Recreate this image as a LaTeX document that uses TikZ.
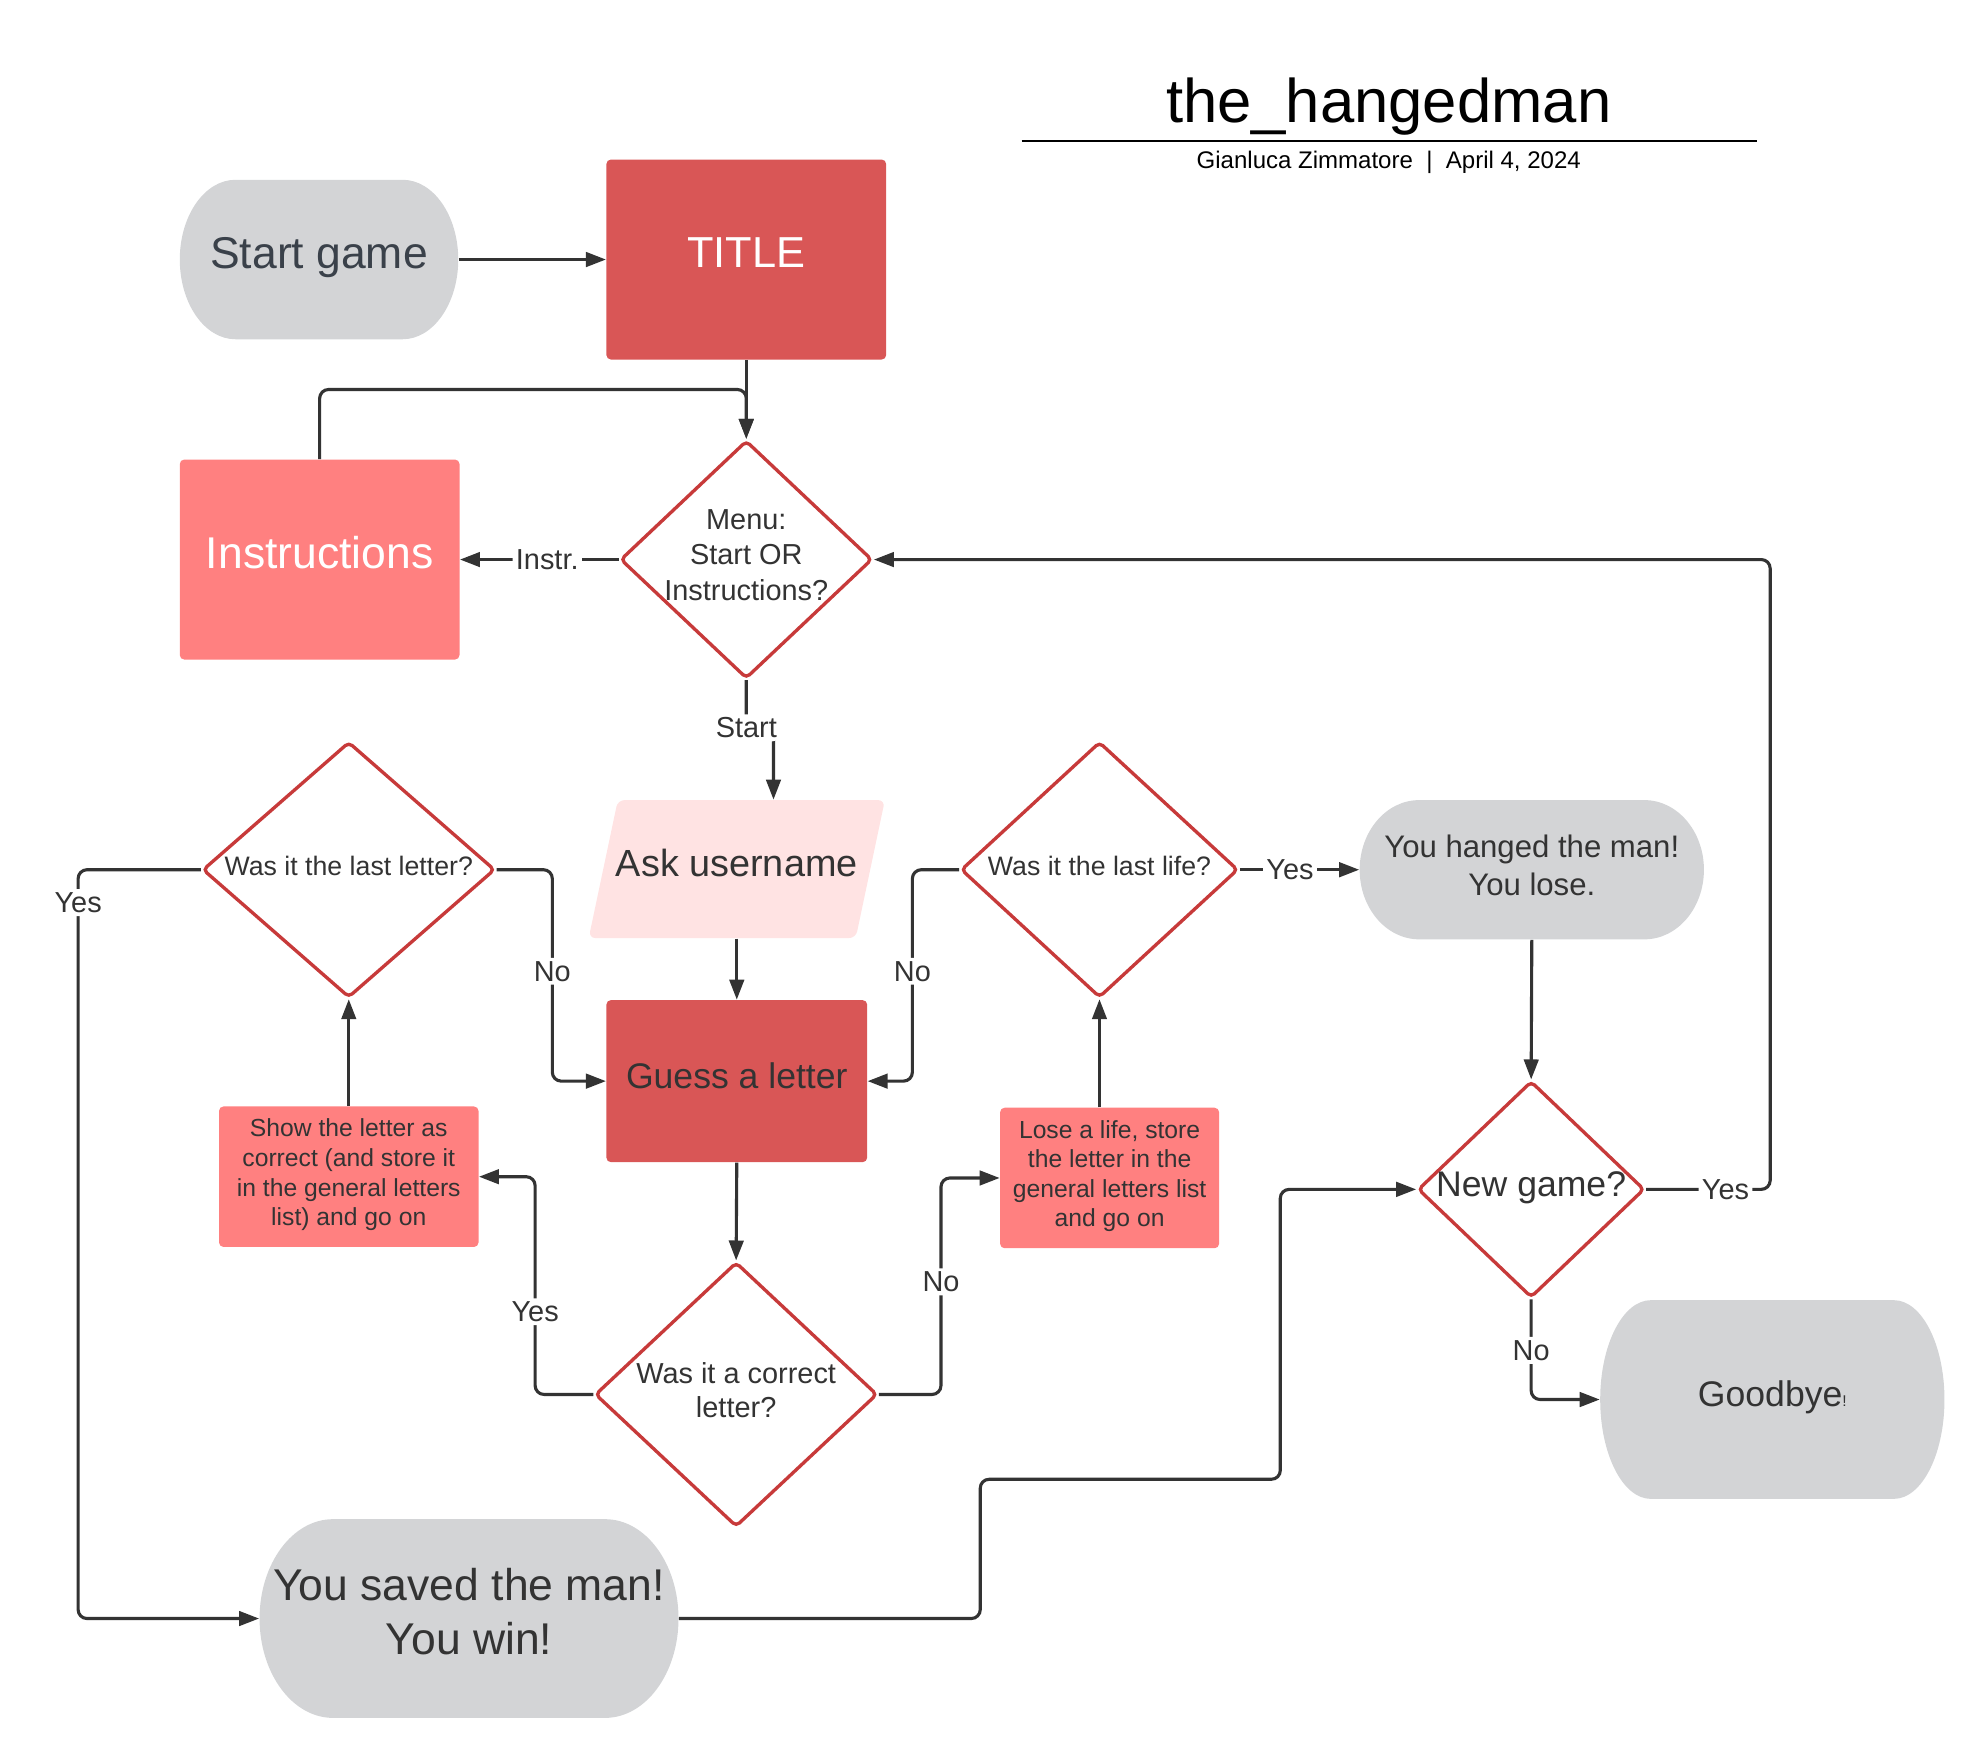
\documentclass[tikz,border=0pt]{standalone}
\usepackage{fontspec}
\setmainfont{Liberation Sans}
\usetikzlibrary{shapes.geometric,arrows.meta}

\definecolor{pillgray}{HTML}{D3D4D6}
\definecolor{boxred}{HTML}{D95656}
\definecolor{boxpink}{HTML}{FF8080}
\definecolor{askpink}{HTML}{FFE3E3}
\definecolor{diared}{HTML}{C73A3A}
\definecolor{linegray}{HTML}{333333}
\definecolor{slate}{HTML}{3A414A}

\begin{document}
\begin{tikzpicture}[x=0.02cm, y=-0.02cm,
  arr/.style={draw=linegray, line width=1.4pt, rounded corners=4pt, -{Triangle[length=9pt,width=6.5pt]}},
  lbl/.style={fill=white, inner sep=1.5pt, text=linegray, font=\fontsize{13}{15}\selectfont},
  txt/.style={align=center, text=linegray},
  box/.style 2 args={rectangle, rounded corners=2pt, minimum width=#1, minimum height=#2, inner sep=0pt},
  decision/.style 2 args={diamond, draw=diared, line width=1.5pt, rounded corners=2pt, fill=white, inner sep=0pt, minimum width=#1, minimum height=#2},
  pill/.style n args={3}{rectangle, inner sep=0pt, minimum width=#1, minimum height=#2,
    path picture={\fill[pillgray] ([xshift=#3]path picture bounding box.north west) -- ([xshift=-#3]path picture bounding box.north east)
      arc[start angle=90, end angle=-90, x radius=#3, y radius=#2/2] -- ([xshift=#3]path picture bounding box.south west)
      arc[start angle=270, end angle=90, x radius=#3, y radius=#2/2] -- cycle;}}
]
\useasboundingbox (0,0) rectangle (1568,1390);

% heading
\node[anchor=base, font=\fontsize{27.7}{33}\selectfont] (heading) at (1097,97) {the\_hangedman};
\node[anchor=base, font=\fontsize{10.8}{13}\selectfont] (byline) at (1097,133) {Gianluca Zimmatore~~|~~April 4, 2024};
\draw[line width=0.9pt] (807,111) -- (1388,111);

% nodes
\node[pill={4.4cm}{2.52cm}{0.88cm}, label={[txt, text=slate, yshift=1pt, font=\fontsize{20}{24}\selectfont]center:{Start game}}] (startg) at (252,205) {};
\node[box={4.42cm}{3.16cm}, fill=boxred, label={[txt, text=white, yshift=2.9pt, font=\fontsize{19.5}{23}\selectfont]center:{TITLE}}] (titlebox) at (589.5,205) {};
\node[box={4.42cm}{3.16cm}, fill=boxpink, label={[txt, text=white, yshift=3.1pt, font=\fontsize{20}{24}\selectfont]center:{Instructions}}] (instr) at (252.5,442) {};
\node[decision={3.98cm}{3.76cm}, label={[txt, yshift=2pt, font=\fontsize{13}{16}\selectfont]center:{Menu:\\Start OR\\Instructions?}}] (menu) at (589.5,442) {};
\node[rectangle, minimum width=4.68cm, minimum height=2.18cm, inner sep=0pt,
  path picture={\fill[askpink, rounded corners=3pt] (path picture bounding box.south west) -- ([xshift=-0.46cm]path picture bounding box.south east)
    -- (path picture bounding box.north east) -- ([xshift=0.46cm]path picture bounding box.north west) -- cycle;},
  label={[txt, yshift=2.6pt, font=\fontsize{17}{20}\selectfont]center:{Ask username}}] (ask) at (582,686.5) {};
\node[box={4.12cm}{2.56cm}, fill=boxred, label={[txt, yshift=2.5pt, font=\fontsize{16}{19}\selectfont]center:{Guess a letter}}] (guess) at (582,854) {};
\node[decision={4.62cm}{4.04cm}, label={[txt, yshift=1.9pt, font=\fontsize{12}{14}\selectfont]center:{Was it the last letter?}}] (lastletter) at (275.5,687) {};
\node[decision={4.38cm}{4.04cm}, label={[txt, yshift=1.9pt, font=\fontsize{12}{14}\selectfont]center:{Was it the last life?}}] (lastlife) at (868.5,687) {};
\node[pill={5.44cm}{2.2cm}{0.94cm}, label={[txt, yshift=1.9pt, font=\fontsize{14}{17}\selectfont]center:{You hanged the man!\\You lose.}}] (lose) at (1210,687) {};
\node[decision={3.58cm}{3.42cm}, label={[txt, yshift=0.8pt, font=\fontsize{16}{19}\selectfont]center:{New game?}}] (newgame) at (1209.5,939.5) {};
\node[pill={5.44cm}{3.14cm}{0.8cm}, label={[txt, yshift=0.8pt, font=\fontsize{16}{19}\selectfont]center:{Goodbye{\fontsize{7}{8}\selectfont!}}}] (bye) at (1400,1105.5) {};
\node[box={4.1cm}{2.22cm}, fill=boxpink, label={[txt, yshift=0.8pt, font=\fontsize{11.1}{13.3}\selectfont]center:{Show the letter as\\correct (and store it\\in the general letters\\list) and go on}}] (showbox) at (275.5,929.5) {};
\node[box={3.46cm}{2.22cm}, fill=boxpink, label={[txt, yshift=0.8pt, font=\fontsize{11.1}{13.3}\selectfont]center:{Lose a life, store\\the letter in the\\general letters list\\and go on}}] (losebox) at (876.5,930.5) {};
\node[decision={4.46cm}{4.18cm}, label={[txt, yshift=2pt, font=\fontsize{13}{15.4}\selectfont]center:{Was it a correct\\letter?}}] (correct) at (581.5,1101.5) {};
\node[pill={6.62cm}{3.14cm}{1.16cm}, label={[txt, yshift=3.2pt, font=\fontsize{20}{24}\selectfont]center:{You saved the man!\\You win!}}] (win) at (370.5,1278.5) {};

% connectors
\coordinate (startjog) at (611,575);
\draw[arr] (startg.east) -- (titlebox.west);
\draw[arr] (titlebox.south) -- (menu.north);
\draw[arr] (instr.north) -- ++(0,-55) -| (menu.north);
\draw[arr] (menu.west) -- node[lbl, pos=0.45]{Instr.} (instr.east);
\draw[arr] (menu.south) |- node[lbl]{Start} (startjog) -- (startjog |- ask.north);
\draw[arr] (ask.south) -- (guess.north);
\draw[arr] (guess.south) -- (correct.north);
\draw[arr] (correct.west) -- ++(-46,0) |- node[lbl, pos=0.19]{Yes} (showbox.east);
\draw[arr] (correct.east) -- ++(49,0) |- node[lbl, pos=0.26]{No} (losebox.west);
\draw[arr] (showbox.north) -- (lastletter.south);
\draw[arr] (lastlife.south |- losebox.north) -- (lastlife.south);
\draw[arr] (lastletter.east) -- ++(44,0) |- node[lbl, pos=0.24]{No} (guess.west);
\draw[arr] (lastlife.west) -- ++(-37,0) |- node[lbl, pos=0.24]{No} (guess.east);
\draw[arr] (lastletter.west) -- ++(-97,0) |- node[lbl, pos=0.022]{Yes} (win.west);
\draw[arr] (lastlife.east) -- node[lbl, pos=0.42]{Yes} (lose.west);
\draw[arr] (lose.south) -- (newgame.north);
\draw[arr] (win.east) -- ++(238,0) |- ++(237,-110) |- (newgame.west);
\draw[arr] (newgame.east) -- node[lbl, pos=0.64]{Yes} ++(98,0) |- (menu.east);
\draw[arr] (newgame.south) |- node[lbl, pos=0.255]{No} (bye.west);
\end{tikzpicture}
\end{document}
